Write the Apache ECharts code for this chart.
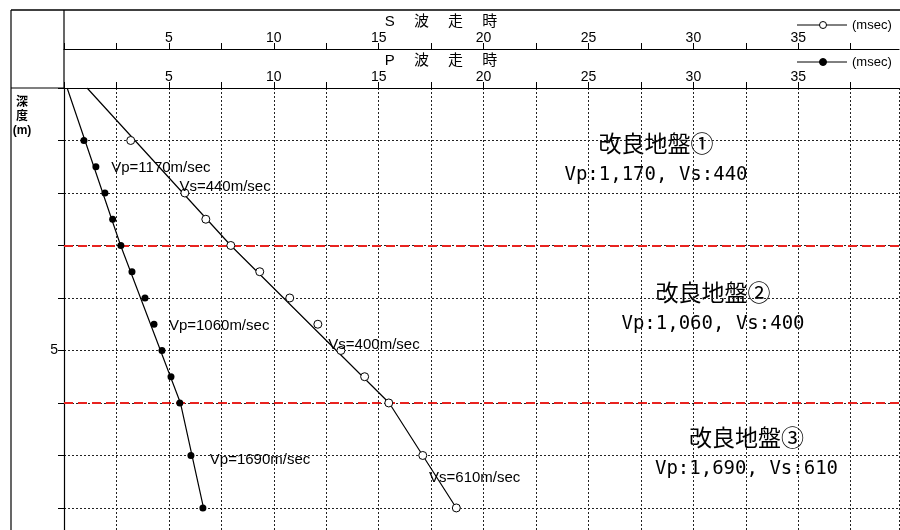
<!DOCTYPE html>
<html>
<head>
<meta charset="utf-8">
<script src="https://cdn.jsdelivr.net/npm/echarts@6/dist/echarts.min.js"></script>
<style>
html, body { margin: 0; padding: 0; background: #fff; }
#main { width: 900px; height: 530px; }
</style>
</head>
<body>
<div id="main"></div>
<script>
// P波 観測点 (深度 m / 走時 msec)
var pDepth = [1, 1.5, 2, 2.5, 3, 3.5, 4, 4.5, 5, 5.5, 6, 7, 8];
var pTime = [0.95, 1.52, 1.95, 2.32, 2.71, 3.24, 3.86, 4.29, 4.67, 5.1, 5.52, 6.05, 6.62];
// S波 観測点
var sDepth = [1, 2, 2.5, 3, 3.5, 4, 4.5, 5, 5.5, 6, 7, 8];
var sTime = [3.18, 5.76, 6.76, 7.95, 9.33, 10.76, 12.1, 13.2, 14.33, 15.48, 17.1, 18.7];
// 走時曲線の折れ点
var pLineDepth = [0, 3, 6, 8];
var pLineTime = [0.15, 2.7, 5.55, 6.65];
var sLineDepth = [0, 3, 6, 8];
var sLineTime = [1.1, 7.95, 15.5, 18.7];
// 層境界 (m)
var layerBounds = [3, 6];
// 速度ラベル
var velLabels = ['Vp=1170m/sec', 'Vs=440m/sec', 'Vp=1060m/sec', 'Vs=400m/sec', 'Vp=1690m/sec', 'Vs=610m/sec'];
var velLabelTime = [2.25, 5.5, 5.0, 12.6, 6.95, 17.4];
var velLabelDepth = [1.53, 1.88, 4.54, 4.89, 7.08, 7.42];
// 改良地盤
var layerNames = ['改良地盤①', '改良地盤②', '改良地盤③'];
var layerVel = ['Vp:1,170, Vs:440', 'Vp:1,060, Vs:400', 'Vp:1,690, Vs:610'];

var FONT = "'Liberation Sans', 'Noto Sans CJK JP', sans-serif";
var MONO = "'DejaVu Sans Mono', 'Noto Sans CJK JP', monospace";

function pairs(xs, ys) {
  return xs.map(function (x, i) { return [x, ys[i]]; });
}

function timeAxis(offset, withGrid) {
  return {
    type: 'value',
    position: 'top',
    offset: offset,
    min: 0,
    max: 39.8,
    interval: 2.5,
    axisLine: { show: true, lineStyle: { color: '#000', width: 1.2 } },
    axisTick: { show: true, length: 6, lineStyle: { color: '#000' } },
    axisLabel: {
      margin: 4,
      fontSize: 14,
      color: '#000',
      fontFamily: FONT,
      showMaxLabel: false,
      formatter: function (v) { return (v > 0 && v % 5 === 0) ? String(v) : ''; }
    },
    splitLine: withGrid ? { show: true, lineStyle: { color: '#222', type: [2, 2], width: 1 } } : { show: false }
  };
}

// 改良地盤の注記ボックス
var boxes = [
  { x: 542, y: 117, w: 228, h: 76 },
  { x: 600, y: 266, w: 226, h: 79 },
  { x: 635, y: 411, w: 223, h: 77 }
];

var graphics = [
  // 枠線
  { type: 'line', shape: { x1: 11, y1: 10, x2: 900, y2: 10 }, style: { stroke: '#000', lineWidth: 1.5 } },
  { type: 'line', shape: { x1: 11, y1: 10, x2: 11, y2: 530 }, style: { stroke: '#000', lineWidth: 1.2 } },
  { type: 'line', shape: { x1: 64, y1: 10, x2: 64, y2: 88 }, style: { stroke: '#000', lineWidth: 1.2 } },
  { type: 'line', shape: { x1: 11, y1: 88, x2: 64, y2: 88 }, style: { stroke: '#000', lineWidth: 1.2 } },
  // 見出し
  { type: 'text', x: 441, y: 22, style: { text: 'S　 波　 走　 時', font: '15px ' + FONT, fill: '#000', textAlign: 'center', textVerticalAlign: 'middle' } },
  { type: 'text', x: 441, y: 61, style: { text: 'P　 波　 走　 時', font: '15px ' + FONT, fill: '#000', textAlign: 'center', textVerticalAlign: 'middle' } },
  { type: 'text', x: 22, y: 96, style: { text: '深\n度\n(m)', font: 'bold 12px ' + FONT, lineHeight: 14, fill: '#000', textAlign: 'center' } },
  // 凡例
  { type: 'line', shape: { x1: 797, y1: 25, x2: 847, y2: 25 }, style: { stroke: '#000', lineWidth: 1 } },
  { type: 'circle', shape: { cx: 823, cy: 25, r: 3.5 }, style: { fill: '#fff', stroke: '#000', lineWidth: 1 } },
  { type: 'text', x: 852, y: 25, style: { text: '(msec)', font: '13px ' + FONT, fill: '#000', textVerticalAlign: 'middle' } },
  { type: 'line', shape: { x1: 797, y1: 62, x2: 847, y2: 62 }, style: { stroke: '#000', lineWidth: 1 } },
  { type: 'circle', shape: { cx: 823, cy: 62, r: 3.5 }, style: { fill: '#000', stroke: '#000', lineWidth: 1 } },
  { type: 'text', x: 852, y: 62, style: { text: '(msec)', font: '13px ' + FONT, fill: '#000', textVerticalAlign: 'middle' } }
];

boxes.forEach(function (b, i) {
  graphics.push({
    type: 'group',
    z: 100,
    children: [
      { type: 'rect', shape: { x: b.x, y: b.y, width: b.w, height: b.h }, style: { fill: '#fff' } },
      { type: 'text', x: b.x + b.w / 2, y: b.y + 29, style: { text: layerNames[i], font: '23px ' + FONT, fill: '#000', textAlign: 'center', textVerticalAlign: 'middle' } },
      { type: 'text', x: b.x + b.w / 2, y: b.y + 58, style: { text: layerVel[i], font: '19px ' + MONO, fill: '#000', textAlign: 'center', textVerticalAlign: 'middle' } }
    ]
  });
});

var chart = echarts.init(document.getElementById('main'));
var option = {
  animation: false,
  backgroundColor: '#fff',
  textStyle: { fontFamily: FONT },
  grid: { left: 64, right: 1, top: 88, bottom: 0 },
  xAxis: [timeAxis(0, true), timeAxis(39, false)],
  yAxis: {
    type: 'value',
    inverse: true,
    min: 0,
    max: 8.42,
    interval: 1,
    axisLine: { show: true, lineStyle: { color: '#000', width: 1.2 } },
    axisTick: { show: true, length: 6, lineStyle: { color: '#000' } },
    axisLabel: {
      margin: 6,
      fontSize: 14,
      color: '#000',
      showMaxLabel: false,
      formatter: function (v) { return v === 5 ? '5' : ''; }
    },
    splitLine: { show: true, lineStyle: { color: '#222', type: [2, 2], width: 1 } }
  },
  graphic: graphics,
  series: [
    {
      name: 'P波走時曲線',
      type: 'line',
      xAxisIndex: 0,
      data: pairs(pLineTime, pLineDepth),
      symbol: 'none',
      lineStyle: { color: '#000', width: 1.2 },
      markLine: {
        silent: true,
        symbol: 'none',
        label: { show: false },
        lineStyle: { color: '#e8231f', type: [9, 5], width: 2 },
        data: layerBounds.map(function (d) { return { yAxis: d }; })
      }
    },
    {
      name: 'S波走時曲線',
      type: 'line',
      xAxisIndex: 1,
      data: pairs(sLineTime, sLineDepth),
      symbol: 'none',
      lineStyle: { color: '#000', width: 1.2 }
    },
    {
      name: 'P波',
      type: 'scatter',
      xAxisIndex: 0,
      data: pairs(pTime, pDepth),
      symbol: 'circle',
      symbolSize: 7,
      itemStyle: { color: '#000', opacity: 1 },
      z: 5
    },
    {
      name: 'S波',
      type: 'scatter',
      xAxisIndex: 1,
      data: pairs(sTime, sDepth),
      symbol: 'circle',
      symbolSize: 8,
      itemStyle: { color: '#fff', borderColor: '#000', borderWidth: 1, opacity: 1 },
      z: 5
    },
    {
      name: '速度',
      type: 'scatter',
      xAxisIndex: 0,
      symbolSize: 0,
      itemStyle: { opacity: 1 },
      data: velLabelTime.map(function (t, i) { return [t, velLabelDepth[i], velLabels[i]]; }),
      label: {
        show: true,
        position: 'right',
        distance: 0,
        fontSize: 15,
        color: '#000',
        opacity: 1,
        formatter: function (p) { return p.data[2]; }
      },
      z: 6
    }
  ]
};
chart.setOption(option);
</script>
</body>
</html>
